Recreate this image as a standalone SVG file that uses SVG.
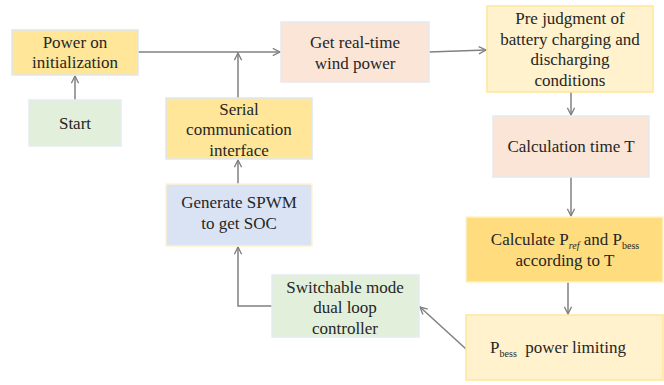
<svg xmlns="http://www.w3.org/2000/svg" width="664" height="385" viewBox="0 0 664 385">
<defs>
<style>
text{font-size:17px;fill:#262626;text-anchor:middle}
.sub{font-size:10px}
.ln{fill:none;stroke:#808080;stroke-width:1.5}
.yel{fill:#FFE699;stroke:#DEE6F0;stroke-width:1.5}
.grn{fill:#E2EFDA;stroke:#E4ECF2;stroke-width:1.5}
.pch{fill:#FBE5D6;stroke:#E6E9EF;stroke-width:1.5}
.lyl{fill:#FFF2CC;stroke:#FFE699;stroke-width:1.5}
.blu{fill:#DAE3F3;stroke:#FFF2CC;stroke-width:1.5}
.org{fill:#FFDD7F;stroke:#FFF2CC;stroke-width:1.5}
</style>
<marker id="ah" viewBox="0 0 10 10" refX="9" refY="5" markerWidth="9" markerHeight="9" markerUnits="userSpaceOnUse" orient="auto">
<path d="M1,1 L9,5 L1,9" fill="none" stroke="#808080" stroke-width="1.5"/>
</marker>
</defs>
<rect width="664" height="385" fill="#FFFFFF"/>
<g id="connectors">
<line class="ln" x1="75" y1="100" x2="75" y2="76" marker-end="url(#ah)"/>
<line class="ln" x1="138" y1="52" x2="280" y2="52" marker-end="url(#ah)"/>
<line class="ln" x1="238" y1="98" x2="238" y2="53" marker-end="url(#ah)"/>
<line class="ln" x1="429" y1="52" x2="486" y2="50" marker-end="url(#ah)"/>
<line class="ln" x1="571" y1="92" x2="571" y2="115" marker-end="url(#ah)"/>
<line class="ln" x1="571" y1="177" x2="571" y2="216" marker-end="url(#ah)"/>
<line class="ln" x1="568" y1="282" x2="568" y2="314" marker-end="url(#ah)"/>
<line class="ln" x1="466" y1="349" x2="420" y2="307" marker-end="url(#ah)"/>
<polyline class="ln" points="272,306 238,306 238,247" marker-end="url(#ah)"/>
<line class="ln" x1="238" y1="184" x2="238" y2="160" marker-end="url(#ah)"/>
</g>
<g font-family="'Liberation Serif', 'DejaVu Serif', 'Noto Serif', serif">
<g id="power-on">
<rect class="yel" x="12" y="30" width="126" height="45"/>
<text x="75" y="48">Power on</text>
<text x="75" y="68">initialization</text>
</g>
<g id="start">
<rect class="grn" x="29" y="100" width="92" height="46"/>
<text x="75" y="129">Start</text>
</g>
<g id="get-wind">
<rect class="pch" x="281" y="22" width="148" height="60"/>
<text x="355" y="48">Get real-time</text>
<text x="355" y="69">wind power</text>
</g>
<g id="pre-judgment">
<rect class="lyl" x="487" y="6" width="166" height="86"/>
<text x="570" y="24">Pre judgment of</text>
<text x="570" y="45">battery charging and</text>
<text x="570" y="65">discharging</text>
<text x="570" y="86">conditions</text>
</g>
<g id="calc-time">
<rect class="pch" x="493" y="116" width="156" height="61"/>
<text x="571" y="152">Calculation time T</text>
</g>
<g id="calc-pref">
<rect class="org" x="466" y="217" width="197" height="65"/>
<text x="565" y="245">Calculate P<tspan class="sub" font-style="italic" dy="4">ref</tspan><tspan dy="-4"> and P</tspan><tspan class="sub" dy="4">bess</tspan></text>
<text x="565" y="266">according to T</text>
</g>
<g id="pbess-limit">
<rect class="lyl" x="466" y="315" width="197" height="65"/>
<text x="558" y="353">P<tspan class="sub" dy="4">bess</tspan><tspan dy="-4" xml:space="preserve">  power limiting</tspan></text>
</g>
<g id="switchable">
<rect class="grn" x="272" y="275" width="147" height="62"/>
<text x="345" y="293">Switchable mode</text>
<text x="345" y="313">dual loop</text>
<text x="345" y="334">controller</text>
</g>
<g id="generate">
<rect class="blu" x="166" y="184" width="146" height="62"/>
<text x="239" y="208">Generate SPWM</text>
<text x="239" y="229">to get SOC</text>
</g>
<g id="serial">
<rect class="yel" x="166" y="98" width="146" height="61"/>
<text x="239" y="115">Serial</text>
<text x="239" y="135">communication</text>
<text x="239" y="156">interface</text>
</g>
</g>
</svg>
